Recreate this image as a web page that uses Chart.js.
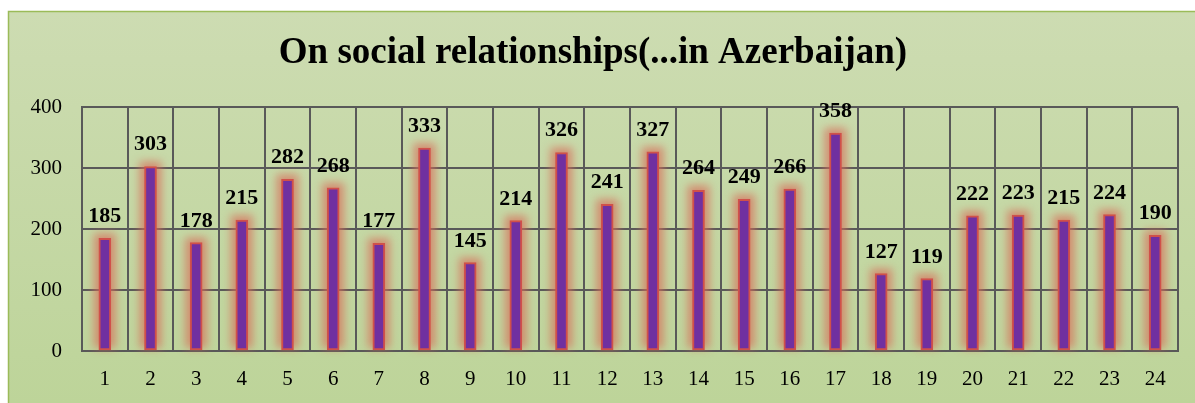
<!DOCTYPE html>
<html>
<head>
<meta charset="utf-8">
<script src="https://cdn.jsdelivr.net/npm/chart.js@4.4.1/dist/chart.umd.min.js"></script>
<style>
  html, body { margin: 0; padding: 0; background: #fff; }
  #wrap { width: 1195px; height: 403px; }
</style>
</head>
<body>
<div id="wrap"><canvas id="chart" width="1195" height="403"></canvas></div>
<script>
const categories = ['1','2','3','4','5','6','7','8','9','10','11','12','13','14','15','16','17','18','19','20','21','22','23','24'];
const counts = [185, 303, 178, 215, 282, 268, 177, 333, 145, 214, 326, 241, 327, 264, 249, 266, 358, 127, 119, 222, 223, 215, 224, 190];
const yTicks = [0, 100, 200, 300, 400];

const serif = '"Liberation Serif", "Times New Roman", serif';

// green panel behind the chart
const panel = {
  id: 'panel',
  beforeDraw(chart) {
    const ctx = chart.ctx;
    ctx.save();
    ctx.fillStyle = '#fff';
    ctx.fillRect(0, 0, chart.width, chart.height);
    const g = ctx.createLinearGradient(0, 11, 0, chart.height);
    g.addColorStop(0, '#cddcb2');
    g.addColorStop(1, '#bdd499');
    ctx.fillStyle = g;
    ctx.fillRect(8, 11, chart.width - 8, chart.height - 11);
    ctx.strokeStyle = '#9bbb59';
    ctx.lineWidth = 1.5;
    ctx.beginPath();
    ctx.moveTo(8.5, chart.height);
    ctx.lineTo(8.5, 11.5);
    ctx.lineTo(chart.width, 11.5);
    ctx.stroke();
    ctx.restore();
  }
};

// soft red glow around the bars, drawn under them from the bar elements
const glow = {
  id: 'glow',
  beforeDatasetsDraw(chart) {
    const ctx = chart.ctx;
    const meta = chart.getDatasetMeta(0);
    ctx.save();
    ctx.filter = 'blur(4px)';
    ctx.fillStyle = 'rgba(215, 110, 90, 0.7)';
    meta.data.forEach(bar => {
      const { x, y, base, width } = bar.getProps(['x', 'y', 'base', 'width'], true);
      ctx.fillRect(x - width / 2 - 5, y - 5, width + 10, base - y + 3);
    });
    ctx.restore();
  }
};

// value labels above each bar
const valueLabels = {
  id: 'valueLabels',
  afterDatasetsDraw(chart) {
    const ctx = chart.ctx;
    const meta = chart.getDatasetMeta(0);
    ctx.save();
    ctx.font = 'bold 22px ' + serif;
    ctx.fillStyle = '#000';
    ctx.textAlign = 'center';
    ctx.textBaseline = 'alphabetic';
    meta.data.forEach((bar, i) => {
      ctx.fillText(String(counts[i]), bar.x, bar.y - 16);
    });
    ctx.restore();
  }
};

new Chart(document.getElementById('chart'), {
  type: 'bar',
  data: {
    labels: categories,
    datasets: [{
      data: counts,
      backgroundColor: '#7030a0',
      borderColor: '#d0504a',
      borderWidth: 2,
      borderSkipped: false,
      barThickness: 12
    }]
  },
  options: {
    responsive: false,
    animation: false,
    layout: { padding: { left: 8, right: 17, top: 0, bottom: 0 } },
    plugins: {
      legend: { display: false },
      tooltip: { enabled: false },
      title: {
        display: true,
        text: 'On social relationships(...in Azerbaijan)',
        color: '#000',
        font: { family: serif, size: 37, weight: 'bold' },
        padding: { top: 31, bottom: 32 }
      }
    },
    scales: {
      x: {
        grid: { offset: true, color: '#595959', lineWidth: 2, drawTicks: false },
        border: { color: '#595959', width: 2 },
        ticks: { color: '#000', font: { family: serif, size: 21 }, padding: 16, maxRotation: 0 },
        afterFit(scale) { scale.height = 52; }
      },
      y: {
        min: 0,
        max: 400,
        afterBuildTicks(scale) { scale.ticks = yTicks.map(v => ({ value: v })); },
        grid: { color: '#595959', lineWidth: 2, drawTicks: false },
        border: { color: '#595959', width: 2 },
        ticks: { color: '#000', font: { family: serif, size: 21 }, padding: 20 },
        afterFit(scale) { scale.width = 74; }
      }
    }
  },
  plugins: [panel, glow, valueLabels]
});
</script>
</body>
</html>
